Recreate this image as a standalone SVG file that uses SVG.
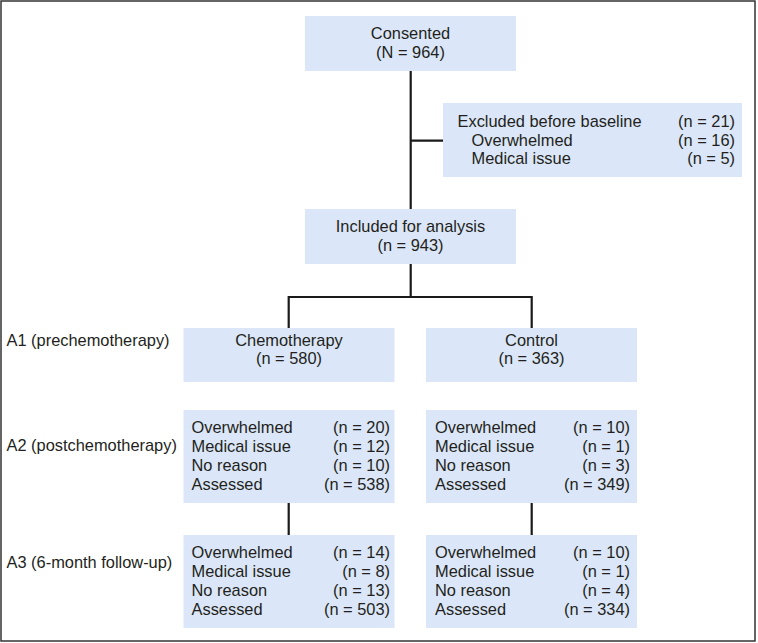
<svg xmlns="http://www.w3.org/2000/svg" width="758" height="643" viewBox="0 0 758 643">
<style>
text{font-family:"Liberation Sans",Arial,sans-serif;font-size:16.4px;fill:#231f20}
.c{text-anchor:middle}
.r{text-anchor:end}
.box{fill:#dbe7f8}
.ln{stroke:#1a1a1a;stroke-width:2.2;fill:none}
</style>
<rect x="1" y="1" width="754" height="640" fill="#fff" stroke="#333" stroke-width="1.5"/>
<g id="connectors">
<path class="ln" d="M410.7 71V209M410.7 140.7H443M410.7 264V297M288.7 328V297H531.7V328M288.7 503V535M531.7 503V535"/>
</g>
<g id="consented">
<rect class="box" x="305" y="16" width="211" height="55"/>
<text class="c" x="410.5" y="39">Consented</text>
<text class="c" x="410.5" y="57.5">(N = 964)</text>
</g>
<g id="excluded">
<rect class="box" x="443" y="103" width="299" height="74"/>
<text x="457.5" y="127">Excluded before baseline</text>
<text class="r" x="735" y="127">(n = 21)</text>
<text x="471.5" y="145.5">Overwhelmed</text>
<text class="r" x="735" y="145.5">(n = 16)</text>
<text x="471.5" y="164">Medical issue</text>
<text class="r" x="735" y="164">(n = 5)</text>
</g>
<g id="included">
<rect class="box" x="305" y="209" width="211" height="55"/>
<text class="c" x="410.5" y="232">Included for analysis</text>
<text class="c" x="410.5" y="250.5">(n = 943)</text>
</g>
<g id="labels">
<text x="6.5" y="345.5">A1 (prechemotherapy)</text>
<text x="6.5" y="451">A2 (postchemotherapy)</text>
<text x="6.5" y="568">A3 (6-month follow-up)</text>
</g>
<g id="chemo">
<rect class="box" x="183.5" y="328" width="211" height="54"/>
<text class="c" x="289" y="345.5">Chemotherapy</text>
<text class="c" x="289" y="364">(n = 580)</text>
</g>
<g id="control">
<rect class="box" x="426" y="328" width="211" height="54"/>
<text class="c" x="531.5" y="345.5">Control</text>
<text class="c" x="531.5" y="364">(n = 363)</text>
</g>
<g id="chemo-a2">
<rect class="box" x="183.5" y="410" width="211" height="93"/>
<text x="191.5" y="432.5">Overwhelmed</text><text class="r" x="390" y="432.5">(n = 20)</text>
<text x="191.5" y="451.5">Medical issue</text><text class="r" x="390" y="451.5">(n = 12)</text>
<text x="191.5" y="470.5">No reason</text><text class="r" x="390" y="470.5">(n = 10)</text>
<text x="191.5" y="489.5">Assessed</text><text class="r" x="390" y="489.5">(n = 538)</text>
</g>
<g id="control-a2">
<rect class="box" x="426" y="410" width="211" height="93"/>
<text x="435" y="432.5">Overwhelmed</text><text class="r" x="630" y="432.5">(n = 10)</text>
<text x="435" y="451.5">Medical issue</text><text class="r" x="630" y="451.5">(n = 1)</text>
<text x="435" y="470.5">No reason</text><text class="r" x="630" y="470.5">(n = 3)</text>
<text x="435" y="489.5">Assessed</text><text class="r" x="630" y="489.5">(n = 349)</text>
</g>
<g id="chemo-a3">
<rect class="box" x="183.5" y="535" width="211" height="93"/>
<text x="191.5" y="557.5">Overwhelmed</text><text class="r" x="390" y="557.5">(n = 14)</text>
<text x="191.5" y="576.5">Medical issue</text><text class="r" x="390" y="576.5">(n = 8)</text>
<text x="191.5" y="595.5">No reason</text><text class="r" x="390" y="595.5">(n = 13)</text>
<text x="191.5" y="614.5">Assessed</text><text class="r" x="390" y="614.5">(n = 503)</text>
</g>
<g id="control-a3">
<rect class="box" x="426" y="535" width="211" height="93"/>
<text x="435" y="557.5">Overwhelmed</text><text class="r" x="630" y="557.5">(n = 10)</text>
<text x="435" y="576.5">Medical issue</text><text class="r" x="630" y="576.5">(n = 1)</text>
<text x="435" y="595.5">No reason</text><text class="r" x="630" y="595.5">(n = 4)</text>
<text x="435" y="614.5">Assessed</text><text class="r" x="630" y="614.5">(n = 334)</text>
</g>
</svg>
